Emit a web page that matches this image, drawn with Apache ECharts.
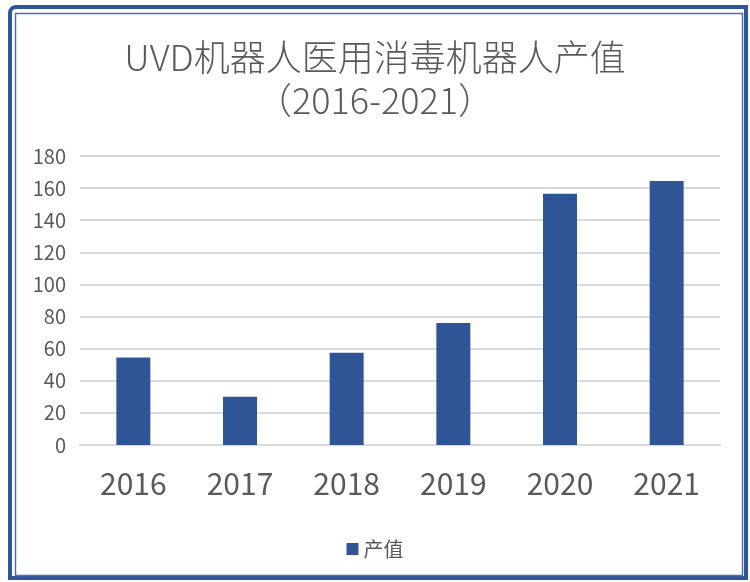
<!DOCTYPE html>
<html>
<head>
<meta charset="utf-8">
<script src="https://cdn.jsdelivr.net/npm/echarts@6/dist/echarts.min.js"></script>
<style>
  html, body { margin: 0; padding: 0; background: #fff; }
  #chart { width: 750px; height: 582px; }
</style>
</head>
<body>
<div id="chart"></div>
<script>
const years = ['2016', '2017', '2018', '2019', '2020', '2021'];
const outputValues = [54.5, 30, 57.5, 76, 156.5, 164.5];
const seriesName = '产值';
const titleText = 'UVD机器人医用消毒机器人产值\n（2016-2021）';

const chart = echarts.init(document.getElementById('chart'), null, { renderer: 'canvas' });

const textColor = '#595959';
const barColor = '#2F5597';
const fontFamily = '"Noto Sans CJK SC", "Noto Sans", sans-serif';

chart.setOption({
  backgroundColor: '#fff',
  animation: false,
  title: {
    text: titleText,
    left: 'center',
    top: 31,
    textStyle: {
      fontFamily,
      fontSize: 36,
      fontWeight: 300,
      lineHeight: 43,
      color: textColor,
    },
  },
  // 外框：粗线 + 细线
  graphic: [
    {
      type: 'rect',
      shape: { x: 10, y: 7, width: 736, height: 571, r: [6, 0, 0, 0] },
      style: { fill: 'none', stroke: barColor, lineWidth: 4 },
      silent: true,
    },
    {
      type: 'rect',
      shape: { x: 15.5, y: 13.5, width: 727, height: 562 },
      style: { fill: 'none', stroke: '#4A6FB5', lineWidth: 1.5 },
      silent: true,
    },
  ],
  legend: {
    data: [seriesName],
    top: 534,
    left: 'center',
    icon: 'rect',
    itemWidth: 12,
    itemHeight: 12,
    itemGap: 8,
    textStyle: { fontFamily, fontSize: 20, color: textColor },
  },
  grid: {
    left: 80,
    right: 30,
    top: 156,
    bottom: 137,
    containLabel: false,
  },
  xAxis: {
    type: 'category',
    data: years,
    axisLine: { show: true, lineStyle: { color: '#d9d9d9', width: 2 } },
    axisTick: { show: false },
    axisLabel: { fontFamily, fontSize: 30, color: textColor, margin: 24 },
  },
  yAxis: {
    type: 'value',
    min: 0,
    max: 180,
    interval: 20,
    axisLine: { show: false },
    axisTick: { show: false },
    axisLabel: { fontFamily, fontSize: 20, color: textColor, margin: 14 },
    splitLine: { lineStyle: { color: '#d9d9d9', width: 2 } },
  },
  series: [
    {
      name: seriesName,
      type: 'bar',
      data: outputValues,
      barWidth: 34,
      itemStyle: { color: barColor },
    },
  ],
});
</script>
</body>
</html>
